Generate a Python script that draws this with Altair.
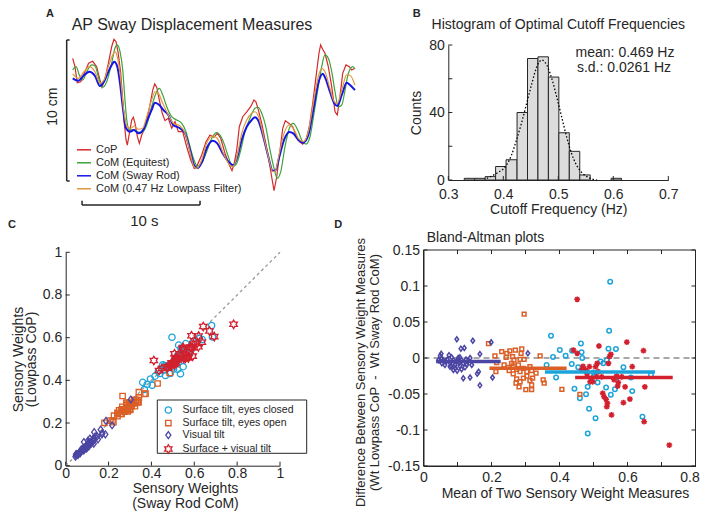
import altair as alt
import pandas as pd

FONT = "Liberation Sans"
INK = "#262626"
W, H = 692, 505

# ---------------- Panel A: AP sway traces (time in s, displacement in cm) ----------------
CURVES = ["CoP", "CoM (Equitest)", "CoM (Sway Rod)", "CoM (0.47 Hz Lowpass Filter)"]
CURVE_COLORS = ["#D42A2A", "#3DA33D", "#1515E6", "#E09840"]

COP_T = [0.06, 0.25, 0.45, 0.74, 1.10, 1.41, 1.75, 2.09, 2.37, 2.54,
         2.80, 3.08, 3.36, 3.56, 3.73, 3.92, 4.13, 4.30, 4.43, 4.58,
         4.69, 4.86, 5.06, 5.20, 5.34, 5.54, 5.71, 5.91, 6.19, 6.53,
         6.84, 7.01, 7.18, 7.40, 7.65, 7.88, 8.16, 8.45, 8.73, 9.01,
         9.38, 9.72, 10.06, 10.36, 10.62, 10.99, 11.36, 11.69, 12.03, 12.31,
         12.60, 12.97, 13.33, 13.56, 13.75, 13.96, 14.18, 14.47, 14.81, 15.14,
         15.42, 15.59, 15.79, 16.08, 16.36, 16.64, 16.92, 17.12, 17.35, 17.63,
         17.86, 18.08, 18.36, 18.70, 18.98, 19.27, 19.55, 19.83, 20.11, 20.40,
         20.68, 20.93, 21.07, 21.24, 21.44, 21.72, 22.01, 22.29, 22.48, 22.71,
         22.94, 23.22, 23.50, 23.70, 23.98]
COP_CM = [8.70, 8.11, 6.97, 7.04, 7.75, 8.35, 8.49, 8.11, 7.16, 6.65,
          7.28, 8.35, 9.52, 10.05, 9.88, 9.06, 7.64, 5.74, 4.09, 2.91,
          2.55, 3.38, 4.33, 4.52, 4.09, 3.14, 2.67, 3.26, 3.85, 5.04,
          6.45, 6.88, 6.65, 5.74, 4.80, 4.28, 4.45, 3.74, 4.21, 3.50,
          3.50, 2.43, 1.49, 0.90, 1.13, 1.84, 2.79, 3.26, 3.10, 3.38,
          3.03, 1.96, 1.13, 0.73, 1.26, 2.20, 3.85, 4.56, 4.91, 5.27,
          5.74, 5.62, 5.04, 4.09, 2.91, 1.72, 0.30, -0.69, 0.30, 2.20,
          3.74, 4.28, 4.09, 3.85, 3.26, 2.79, 2.62, 2.91, 3.85, 5.51,
          7.40, 9.06, 9.65, 9.34, 9.06, 8.11, 6.69, 4.91, 4.68, 5.98,
          7.64, 8.23, 8.11, 7.87, 8.00]

EQ_T = [0.06, 0.34, 0.62, 0.91, 1.25, 1.67, 1.95, 2.31, 2.60, 2.94,
        3.36, 3.64, 3.84, 4.07, 4.30, 4.49, 4.64, 4.86, 5.20, 5.54,
        5.91, 6.33, 6.75, 7.12, 7.40, 7.69, 8.03, 8.45, 8.87, 9.30,
        9.66, 10.00, 10.34, 10.62, 10.99, 11.41, 11.84, 12.26, 12.54, 12.88,
        13.25, 13.62, 13.96, 14.30, 14.66, 15.08, 15.51, 15.79, 16.08, 16.42,
        16.78, 17.12, 17.40, 17.69, 18.05, 18.42, 18.75, 19.13, 19.47, 19.83,
        20.17, 20.51, 20.87, 21.16, 21.44, 21.72, 22.01, 22.29, 22.57, 22.86,
        23.14, 23.42, 23.79, 23.98]
EQ_CM = [7.87, 8.11, 7.52, 7.16, 7.75, 8.23, 8.16, 7.16, 6.65, 7.04,
         8.35, 9.41, 9.65, 9.17, 7.87, 5.74, 4.33, 3.62, 3.62, 3.50,
         3.43, 3.97, 5.27, 6.22, 6.57, 6.10, 5.27, 4.56, 4.33, 4.09,
         3.50, 2.43, 1.49, 1.06, 1.26, 2.08, 3.03, 3.43, 3.26, 2.67,
         1.72, 1.01, 1.26, 2.20, 3.50, 4.45, 5.16, 5.23, 4.80, 3.85,
         2.20, 0.90, 0.19, 0.66, 2.43, 3.74, 4.09, 3.62, 2.91, 2.62,
         3.14, 4.80, 6.69, 8.11, 8.94, 8.70, 7.75, 6.33, 5.27, 5.39,
         6.45, 7.64, 8.11, 7.95]

ROD_T = [0.06, 0.53, 0.96, 1.47, 1.95, 2.37, 2.71, 3.08, 3.45, 3.58,
         3.84, 4.07, 4.30, 4.58, 4.92, 5.25, 5.62, 5.99, 6.33, 6.75,
         7.03, 7.40, 7.74, 8.16, 8.59, 9.15, 9.58, 10.00, 10.34, 10.62,
         10.99, 11.41, 11.92, 12.31, 12.77, 13.25, 13.67, 14.01, 14.38, 14.81,
         15.23, 15.51, 15.79, 16.21, 16.64, 17.01, 17.23, 17.57, 17.97, 18.42,
         18.75, 19.18, 19.60, 20.03, 20.45, 20.87, 21.25, 21.44, 21.86, 22.23,
         22.48, 22.86, 23.28, 23.56, 23.98]
ROD_CM = [7.28, 7.11, 7.45, 7.75, 7.45, 6.74, 7.04, 7.75, 8.35, 8.46,
          8.11, 6.93, 5.27, 3.74, 3.50, 3.62, 3.38, 3.57, 4.21, 5.04,
          5.55, 5.39, 5.04, 4.68, 3.97, 3.74, 3.38, 2.20, 1.13, 0.90,
          1.30, 2.32, 2.86, 2.67, 1.96, 1.37, 1.13, 1.72, 2.91, 3.85,
          4.33, 4.52, 4.28, 3.14, 1.72, 0.73, 0.73, 1.72, 2.91, 3.48,
          3.38, 2.91, 2.72, 3.26, 5.04, 6.93, 7.60, 7.35, 6.33, 5.51,
          5.32, 6.10, 6.97, 6.81, 6.45]

LP_T = [0.06, 0.53, 1.02, 1.47, 1.95, 2.37, 2.71, 3.08, 3.45, 3.64,
        3.87, 4.13, 4.35, 4.64, 4.97, 5.28, 5.62, 5.99, 6.33, 6.75,
        7.03, 7.31, 7.69, 8.16, 8.59, 9.15, 9.58, 10.00, 10.34, 10.57,
        10.99, 11.41, 11.92, 12.31, 12.77, 13.25, 13.62, 14.01, 14.38, 14.81,
        15.23, 15.51, 15.79, 16.21, 16.64, 17.01, 17.23, 17.57, 17.97, 18.42,
        18.75, 19.18, 19.60, 20.03, 20.45, 20.87, 21.16, 21.44, 21.86, 22.23,
        22.48, 22.86, 23.28, 23.56, 23.98]
LP_CM = [7.59, 7.28, 7.75, 8.11, 7.75, 6.93, 7.16, 8.11, 8.94, 9.17,
         8.70, 7.16, 5.27, 3.90, 3.74, 3.90, 3.67, 3.74, 4.56, 5.74,
         6.33, 6.22, 5.51, 4.68, 4.09, 3.90, 3.38, 2.08, 1.01, 0.90,
         1.49, 2.67, 3.19, 3.03, 2.08, 1.26, 1.01, 1.84, 3.38, 4.33,
         4.80, 4.91, 4.61, 3.26, 1.72, 0.66, 0.73, 1.96, 3.38, 3.97,
         3.74, 3.03, 2.79, 3.50, 5.51, 7.40, 7.99, 7.75, 6.57, 5.62,
         5.51, 6.45, 7.52, 7.50, 6.81]

SCALE_CM = 10   # vertical scale bar
SCALE_S = 10    # horizontal scale bar

# ---------------- Panel B: histogram of optimal cutoff frequencies ----------------
BIN_LO = [0.329, 0.348, 0.367, 0.386, 0.405, 0.425, 0.444, 0.463, 0.482, 0.501, 0.520, 0.539, 0.596]
BIN_HI = [0.348, 0.367, 0.386, 0.405, 0.425, 0.444, 0.463, 0.482, 0.501, 0.520, 0.539, 0.558, 0.615]
BIN_COUNT = [1, 1, 2, 8, 12, 40, 72, 73, 61, 28, 17, 3, 1]
FIT_HZ = [0.370, 0.388, 0.406, 0.415, 0.424, 0.433, 0.4425, 0.452, 0.461, 0.470, 0.479,
          0.488, 0.497, 0.506, 0.515, 0.524, 0.533, 0.543, 0.552, 0.561, 0.570]
FIT_COUNT = [1.0, 4.0, 8.9, 14.8, 23.7, 33.6, 45.4, 57.3, 67.2, 71.1, 68.1,
             60.2, 49.4, 37.5, 25.7, 15.8, 8.9, 4.3, 2.0, 0.6, 0.0]
MEAN_HZ = "0.469"
SD_HZ = "0.0261"
B_XTICKS = [0.3, 0.4, 0.5, 0.6, 0.7]
B_YTICKS = [0, 20, 40, 60, 80]
B_YLABELS = [0, 40, 80]

# ---------------- Panels C & D: sensory weights (D: mean, difference) ----------------
GROUPS = ["Surface tilt, eyes closed", "Surface tilt, eyes open", "Visual tilt", "Surface + visual tilt"]
GROUP_COLORS = ["#1CA3DA", "#DB5F26", "#4B45A3", "#D2202E"]

CLOSED_M = [0.549, 0.546, 0.375, 0.401, 0.381, 0.418, 0.362, 0.390, 0.436,
            0.437, 0.463, 0.465, 0.467, 0.455, 0.444, 0.460, 0.478, 0.483, 0.487,
            0.483, 0.506, 0.512, 0.544, 0.566, 0.537, 0.551, 0.563, 0.529, 0.588,
            0.610, 0.614, 0.644, 0.669, 0.500, 0.504, 0.480, 0.521, 0.539, 0.568]
CLOSED_D = [0.106, 0.038, 0.031, 0.011, 0.0014, 0.003, -0.0097, -0.027, -0.0083,
            0.0102, 0.020, 0.0079, 0.0, -0.013, -0.0426, -0.056, -0.0505, -0.0398, -0.0704,
            -0.105, -0.0838, -0.034, 0.013, 0.0125, -0.041, -0.051, -0.0435, -0.0074, -0.013,
            -0.027, -0.046, -0.0815, -0.0236, -0.020, -0.025, -0.019, -0.005, -0.003, -0.027]

OPEN_M = [0.296, 0.191, 0.210, 0.230, 0.245, 0.254, 0.270, 0.289, 0.287, 0.262, 0.266, 0.284, 0.296, 0.343, 0.215,
          0.237, 0.249, 0.259, 0.264, 0.279, 0.274, 0.284, 0.294, 0.304, 0.313, 0.318,
          0.264, 0.274, 0.284, 0.294, 0.304, 0.313, 0.272, 0.281, 0.301, 0.318, 0.318,
          0.331, 0.352, 0.355, 0.407, 0.460, 0.321, 0.213, 0.252, 0.243]
OPEN_D = [0.061, 0.020, 0.0028, 0.0088, 0.0065, 0.010, 0.011, 0.0125, 0.0065, 0.0019, -0.003, -0.002, -0.002, 0.003, -0.0065,
          -0.0097, -0.013, -0.0074, -0.011, -0.0097, -0.0157, -0.019, -0.0143, -0.019, -0.012, -0.0176,
          -0.022, -0.029, -0.033, -0.028, -0.025, -0.0315, -0.035, -0.040, -0.044, -0.0375, -0.044,
          -0.021, -0.0305, -0.035, -0.0435, -0.0505, -0.028, -0.019, -0.0176, 0.001]

VIS_M = [0.098, 0.145, 0.199, 0.110, 0.120, 0.052, 0.166, 0.307, 0.137, 0.117, 0.158, 0.162, 0.166, 0.203, 0.081,
         0.054, 0.058, 0.066, 0.070, 0.078, 0.083, 0.088, 0.093, 0.098, 0.102,
         0.105, 0.107, 0.112, 0.117, 0.125, 0.130, 0.137, 0.142,
         0.078, 0.093, 0.107, 0.122, 0.088, 0.099, 0.112, 0.049, 0.044, 0.054, 0.063, 0.075, 0.128]
VIS_D = [0.026, 0.024, 0.022, 0.013, 0.014, 0.006, 0.0055, 0.0065, -0.027, -0.028, -0.022, -0.019, -0.038, -0.027, -0.011,
         -0.001, -0.003, -0.005, -0.002, -0.007, 0.001, -0.003, -0.0097, -0.004, 0.0,
         -0.0065, 0.001, -0.003, -0.0074, -0.002, -0.005, 0.0, -0.0097,
         -0.012, -0.014, -0.011, -0.013, -0.0167, -0.0176, -0.0157, 0.003, -0.003, -0.0074, -0.0097, 0.004, -0.009]

SV_M = [0.452, 0.441, 0.452, 0.469, 0.481, 0.477, 0.494, 0.498, 0.506, 0.511,
        0.516, 0.514, 0.509, 0.527, 0.531, 0.537, 0.541, 0.539, 0.553, 0.544,
        0.547, 0.551, 0.598, 0.647, 0.614, 0.568, 0.583, 0.573, 0.571, 0.593,
        0.651, 0.588, 0.607, 0.649, 0.723, 0.488, 0.465, 0.524, 0.490, 0.560]
SV_D = [0.0815, 0.011, 0.0065, -0.0116, -0.022, -0.0167, -0.028, -0.033, -0.012, -0.0074,
        0.0167, -0.019, -0.026, -0.049, -0.0537, -0.0574, -0.063, -0.0676, -0.079, -0.0074,
        0.0019, 0.0051, 0.022, 0.0102, -0.012, -0.025, -0.026, -0.034, -0.039, -0.040,
        -0.040, -0.062, -0.057, -0.0884, -0.121, -0.012, -0.0167, -0.026, -0.033, -0.030]

MEAN_LO = [0.357, 0.194, 0.037, 0.446]
MEAN_HI = [0.681, 0.421, 0.227, 0.733]
MEAN_DIFF = [-0.0195, -0.0143, -0.005, -0.027]

C_TICKS = [0, 0.2, 0.4, 0.6, 0.8, 1]
DIAG = [0, 1]
D_XTICKS = [0, 0.1, 0.2, 0.3, 0.4, 0.5, 0.6, 0.7, 0.8]
D_XLABELS = [0, 0.2, 0.4, 0.6, 0.8]
D_YTICKS = [-0.15, -0.1, -0.05, 0, 0.05, 0.1, 0.15]

# marker outlines (unit symbol paths)
SQUARE = "M-0.85,-0.85L0.85,-0.85L0.85,0.85L-0.85,0.85Z"
DIAMOND = "M0,-1.1L0.8,0L0,1.1L-0.8,0Z"
HEXAGRAM = ("M0,-1.35L0.39,-0.675L1.169,-0.675L0.78,0L1.169,0.675L0.39,0.675L0,1.35"
            "L-0.39,0.675L-1.169,0.675L-0.78,0L-1.169,-0.675L-0.39,-0.675Z")
ASTERISK = "M0,-1.3L0,1.3M-1.3,0L1.3,0M-0.92,-0.92L0.92,0.92M-0.92,0.92L0.92,-0.92"
SHAPES_C = ["circle", SQUARE, DIAMOND, HEXAGRAM]
SHAPES_D = ["circle", SQUARE, DIAMOND, ASTERISK]

ONE = pd.DataFrame({"k": [0]})
LABEL_EXPR = "replace(format(datum.value, '~r'), '\u2212', '-')"


def mk_axis(orient, offset, values, title, **kw):
    base = dict(orient=orient, offset=offset, values=values, title=title, grid=False,
                ticks=False, domainColor=INK, domainWidth=1,
                labelColor=INK, labelFont=FONT, labelFontSize=14, labelPadding=4,
                labelOverlap=False, labelFlush=False, labelExpr=LABEL_EXPR,
                titleColor=INK, titleFont=FONT, titleFontSize=14, titleFontWeight="normal")
    base.update(kw)
    return alt.Axis(**base)


def lin(domain, rng):
    return alt.Scale(domain=domain, range=rng, nice=False, zero=False)


def txt(s, x, y, size=14, angle=0, weight="normal", align="center"):
    return alt.Chart(pd.DataFrame({"s": [s]})).mark_text(
        font=FONT, fontSize=size, angle=angle, fontWeight=weight, align=align,
        baseline="middle", color=INK).encode(x=alt.value(x), y=alt.value(y), text="s:N")


# ======================= Panel A =======================
sxA = lin([0, 24], [64, 347.2])
syA = lin([0, 10], [173, 32])
colA = alt.Scale(domain=CURVES, range=CURVE_COLORS)
legA = alt.Legend(orient="none", legendX=68, legendY=133.8, title=None, padding=0,
                  symbolType="stroke", symbolSize=196, symbolStrokeWidth=1.5,
                  labelFont=FONT, labelFontSize=11, labelColor=INK, rowPadding=0, labelOffset=4)


def trace(t, cm, name, width, interp):
    df = pd.DataFrame({"t": t, "cm": cm, "series": name})
    return alt.Chart(df).mark_line(strokeWidth=width, interpolate=interp).encode(
        x=alt.X("t:Q", scale=sxA, axis=None),
        y=alt.Y("cm:Q", scale=syA, axis=None),
        color=alt.Color("series:N", scale=colA, legend=legA))


BAR_T = -0.45
BAR_T0 = 0.85
BAR_CM = -1.7
vbar = alt.Chart(pd.DataFrame({"lo": [0], "hi": [SCALE_CM]})).mark_rule(color=INK, strokeWidth=1.5).encode(
    x=alt.XDatum(BAR_T, scale=sxA, axis=None), y=alt.Y("lo:Q", scale=syA, axis=None), y2="hi:Q")
vcaps = alt.Chart(pd.DataFrame({"cm": [0, SCALE_CM]})).mark_rule(color=INK, strokeWidth=1.5).encode(
    x=alt.XDatum(BAR_T, scale=sxA, axis=None), x2=alt.X2Datum(BAR_T + 0.25),
    y=alt.Y("cm:Q", scale=syA, axis=None))
hbar = alt.Chart(pd.DataFrame({"s0": [BAR_T0], "s1": [BAR_T0 + SCALE_S]})).mark_rule(color=INK, strokeWidth=1.5).encode(
    x=alt.X("s0:Q", scale=sxA, axis=None), x2="s1:Q", y=alt.YDatum(BAR_CM, scale=syA, axis=None))
hcaps = alt.Chart(pd.DataFrame({"t": [BAR_T0, BAR_T0 + SCALE_S]})).mark_rule(color=INK, strokeWidth=1.5).encode(
    x=alt.X("t:Q", scale=sxA, axis=None), y=alt.YDatum(BAR_CM, scale=syA, axis=None),
    y2=alt.Y2Datum(BAR_CM + 0.3))

panelA = alt.layer(
    trace(COP_T, COP_CM, CURVES[0], 1.2, "linear"),
    trace(EQ_T, EQ_CM, CURVES[1], 1.2, "monotone"),
    trace(ROD_T, ROD_CM, CURVES[2], 2.0, "monotone"),
    trace(LP_T, LP_CM, CURVES[3], 1.2, "monotone"),
    vbar, vcaps, hbar, hcaps,
)

# ======================= Panel B =======================
sxB = lin([0.3, 0.7], [440.3, 660.3])
syB = lin([0, 80], [172, 37])
axBx = mk_axis("bottom", 172 - H, B_XTICKS, "Cutoff Frequency (Hz)", labelPadding=7, titlePadding=1)
axBy = mk_axis("left", -440.3, B_YLABELS, "Counts", titlePadding=5)

bars = alt.Chart(pd.DataFrame({"lo": BIN_LO, "hi": BIN_HI, "n": BIN_COUNT})).mark_rect(
    fill="#DCDCDC", stroke=INK, strokeWidth=1).encode(
    x=alt.X("lo:Q", scale=sxB, axis=axBx), x2="hi:Q",
    y=alt.Y("n:Q", scale=syB, axis=axBy), y2=alt.Y2Datum(0))
fit = alt.Chart(pd.DataFrame({"hz": FIT_HZ, "c": FIT_COUNT})).mark_line(
    color="black", strokeDash=[1.5, 2], strokeWidth=1.3, interpolate="monotone").encode(
    x=alt.X("hz:Q", scale=sxB, axis=None), y=alt.Y("c:Q", scale=syB, axis=None))
bxt = alt.Chart(pd.DataFrame({"v": B_XTICKS})).mark_rule(color=INK).encode(
    x=alt.X("v:Q", scale=sxB, axis=None), y=alt.YDatum(0, scale=syB, axis=None), y2=alt.Y2Datum(2.4))
byt = alt.Chart(pd.DataFrame({"v": B_YTICKS})).mark_rule(color=INK).encode(
    y=alt.Y("v:Q", scale=syB, axis=None), x=alt.XDatum(0.3, scale=sxB, axis=None), x2=alt.X2Datum(0.3073))
layersB = [bars, fit, bxt, byt]

# ======================= Panels C & D data =======================
def frame(m, d, g):
    m = pd.Series(m, dtype=float)
    d = pd.Series(d, dtype=float)
    return pd.DataFrame({"m": m, "d": d, "sway": m - d / 2, "low": m + d / 2, "g": g})


pts = pd.concat([frame(CLOSED_M, CLOSED_D, GROUPS[0]), frame(OPEN_M, OPEN_D, GROUPS[1]),
                 frame(VIS_M, VIS_D, GROUPS[2]), frame(SV_M, SV_D, GROUPS[3])], ignore_index=True)

# ======================= Panel C =======================
sxC = lin([0, 1], [57.7, 272])
syC = lin([0, 1], [457.7, 244.3])
axCx = mk_axis("bottom", 457.7 - H, C_TICKS, ["Sensory Weights", "(Sway Rod CoM)"],
               labelPadding=1, titleX=177, titlePadding=1, titleLineHeight=15)
axCy = mk_axis("left", -57.7, C_TICKS, ["Sensory Weights", "(Lowpass CoP)"],
               titlePadding=4, titleLineHeight=13)
legC = alt.Legend(orient="none", legendX=155.1, legendY=396.8, title=None, padding=0,
                  symbolSize=40, symbolStrokeWidth=1.3, labelFont=FONT, labelFontSize=10.5,
                  labelColor=INK, rowPadding=0, labelOffset=9)

diag = alt.Chart(pd.DataFrame({"a": DIAG})).mark_line(color="#999999", strokeDash=[3, 3], strokeWidth=1.3).encode(
    x=alt.X("a:Q", scale=sxC, axis=axCx), y=alt.Y("a:Q", scale=syC, axis=axCy))
cxt = alt.Chart(pd.DataFrame({"v": C_TICKS})).mark_rule(color=INK).encode(
    x=alt.X("v:Q", scale=sxC, axis=None), y=alt.YDatum(0, scale=syC, axis=None), y2=alt.Y2Datum(0.019))
cyt = alt.Chart(pd.DataFrame({"v": C_TICKS})).mark_rule(color=INK).encode(
    y=alt.Y("v:Q", scale=syC, axis=None), x=alt.XDatum(0, scale=sxC, axis=None), x2=alt.X2Datum(0.019))
cbox = alt.Chart(ONE).mark_rect(fill="white", stroke=INK, strokeWidth=1).encode(
    x=alt.value(149.3), x2=alt.value(298.7), y=alt.value(392), y2=alt.value(445.3))
cpts = alt.Chart(pts).mark_point(filled=False, size=40, strokeWidth=1.3, opacity=1).encode(
    x=alt.X("sway:Q", scale=sxC, axis=None),
    y=alt.Y("low:Q", scale=syC, axis=None),
    color=alt.Color("g:N", scale=alt.Scale(domain=GROUPS, range=GROUP_COLORS), legend=legC),
    shape=alt.Shape("g:N", scale=alt.Scale(domain=GROUPS, range=SHAPES_C), legend=legC))
layersC = [diag, cxt, cyt, cbox, cpts]

# ======================= Panel D =======================
sxD = lin([0, 0.8], [415.5, 687.5])
syD = lin([-0.15, 0.15], [458, 242])
axDx = mk_axis("bottom", 458 - H, D_XLABELS, "Mean of Two Sensory Weight Measures",
               titleX=557, titlePadding=2,
               labelOffset={"condition": {"test": "datum.value >= 0.8", "value": -6}, "value": 0})
axDy = mk_axis("left", -415.5, D_YTICKS,
               ["Difference Between Sensory Weight Measures",
                "(Wt Lowpass CoP\u00a0 -\u00a0 Wt Sway Rod CoM)"],
               titleY=364, titlePadding=6, titleLineHeight=14, titleFontSize=13)

zero = alt.Chart(ONE).mark_rule(color="#8C8C8C", strokeDash=[6, 4], strokeWidth=1.5).encode(
    x=alt.XDatum(0, scale=sxD, axis=axDx), x2=alt.X2Datum(0.8),
    y=alt.YDatum(0, scale=syD, axis=axDy))
colD = alt.Scale(domain=GROUPS, range=GROUP_COLORS)
dpts = alt.Chart(pts).mark_point(filled=False, size=20, strokeWidth=1.5, opacity=1).encode(
    x=alt.X("m:Q", scale=sxD, axis=None),
    y=alt.Y("d:Q", scale=syD, axis=None),
    color=alt.Color("g:N", scale=colD, legend=None),
    shape=alt.Shape("g:N", scale=alt.Scale(domain=GROUPS, range=SHAPES_D), legend=None))
means = alt.Chart(pd.DataFrame({"lo": MEAN_LO, "hi": MEAN_HI, "d": MEAN_DIFF, "g": GROUPS})).mark_rule(
    strokeWidth=3.5).encode(
    x=alt.X("lo:Q", scale=sxD, axis=None), x2="hi:Q",
    y=alt.Y("d:Q", scale=syD, axis=None),
    color=alt.Color("g:N", scale=colD, legend=None))
dbox = alt.Chart(ONE).mark_rect(filled=False, stroke=INK, strokeWidth=1).encode(
    x=alt.XDatum(0, scale=sxD, axis=None), x2=alt.X2Datum(0.8),
    y=alt.YDatum(-0.15, scale=syD, axis=None), y2=alt.Y2Datum(0.15))
dxb = alt.Chart(pd.DataFrame({"v": D_XTICKS})).mark_rule(color=INK).encode(
    x=alt.X("v:Q", scale=sxD, axis=None), y=alt.YDatum(-0.15, scale=syD, axis=None), y2=alt.Y2Datum(-0.1444))
dxt = alt.Chart(pd.DataFrame({"v": D_XTICKS})).mark_rule(color=INK).encode(
    x=alt.X("v:Q", scale=sxD, axis=None), y=alt.YDatum(0.15, scale=syD, axis=None), y2=alt.Y2Datum(0.1444))
dyl = alt.Chart(pd.DataFrame({"v": D_YTICKS})).mark_rule(color=INK).encode(
    y=alt.Y("v:Q", scale=syD, axis=None), x=alt.XDatum(0, scale=sxD, axis=None), x2=alt.X2Datum(0.0118))
dyr = alt.Chart(pd.DataFrame({"v": D_YTICKS})).mark_rule(color=INK).encode(
    y=alt.Y("v:Q", scale=syD, axis=None), x=alt.XDatum(0.8, scale=sxD, axis=None), x2=alt.X2Datum(0.7882))
layersD = [zero, dpts, means, dbox, dxb, dxt, dyl, dyr]

# ======================= Titles and annotations =======================
texts = [
    txt("A", 42, 6, 11, weight="bold"),
    txt("B", 408.7, 6, 11, weight="bold"),
    txt("C", 0, 217, 11, weight="bold", align="left"),
    txt("D", 330.3, 217, 11, weight="bold"),
    txt("AP Sway Displacement Measures", 184, 17, 16),
    txt("Histogram of Optimal Cutoff Frequencies", 550.3, 17, 14),
    txt(f"mean: {MEAN_HZ} Hz", 617, 45.3, 14),
    txt(f"s.d.: {SD_HZ} Hz", 616, 60.3, 14),
    txt("Bland-Altman plots", 418.7, 230.3, 14, align="left"),
    txt(f"{SCALE_S} s", 136.3, 212.7, 15),
    txt(f"{SCALE_CM} cm", 45.3, 98.7, 14, angle=270),
]

chart = alt.layer(panelA, *layersB, *layersC, *layersD, *texts).resolve_scale(
    x="independent", y="independent", color="independent", shape="independent"
).properties(
    width=W, height=H, autosize=alt.AutoSizeParams(type="none"), padding=0
).configure_view(stroke=None)

chart.save("out.html", embed_options={"renderer": "svg", "actions": False})
